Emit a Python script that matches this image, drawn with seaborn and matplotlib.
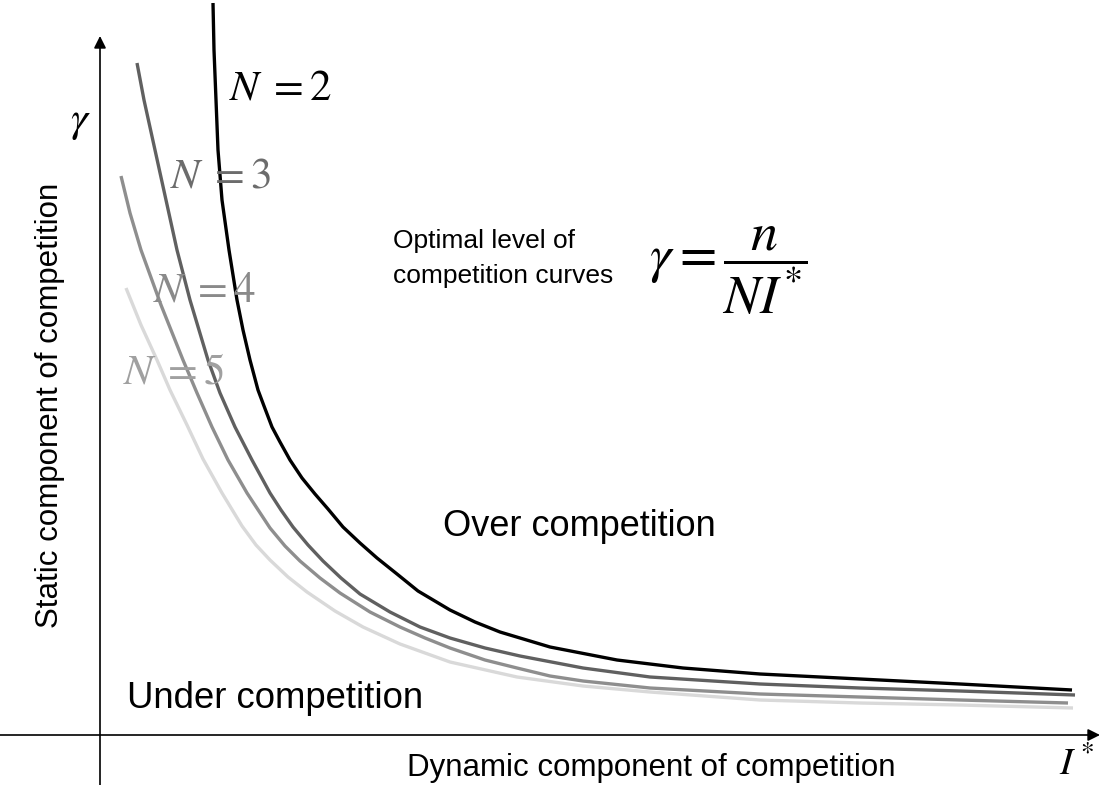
import numpy as np
import pandas as pd
import matplotlib
matplotlib.use("Agg")
import matplotlib.pyplot as plt
import seaborn as sns

# ------------------------------------------------------------
# data (I* on x, gamma on y)
# ------------------------------------------------------------
n2_x = [1.13, 1.14, 1.16, 1.18, 1.22, 1.29, 1.37, 1.43, 1.50, 1.54, 1.58, 1.64,
        1.72, 1.80, 1.90, 2.02, 2.15, 2.28, 2.43, 2.60, 2.77, 2.97, 3.18, 3.50,
        3.75, 4.00, 4.50, 5.17, 5.83, 6.60, 7.60, 8.60, 9.72]
n2_y = [7.32, 6.85, 6.35, 5.85, 5.35, 4.85, 4.35, 4.05, 3.75, 3.60, 3.45, 3.29,
        3.08, 2.93, 2.75, 2.57, 2.41, 2.26, 2.08, 1.92, 1.77, 1.61, 1.44, 1.25,
        1.13, 1.03, 0.88, 0.75, 0.67, 0.61, 0.56, 0.51, 0.45]

n3_x = [0.37, 0.44, 0.55, 0.66, 0.77, 0.90, 0.99, 1.08, 1.20, 1.35, 1.52, 1.70,
        1.81, 1.93, 2.08, 2.23, 2.41, 2.60, 2.90, 3.20, 3.50, 3.85, 4.20, 4.83,
        5.50, 6.60, 7.60, 8.60, 9.75]
n3_y = [6.72, 6.35, 5.85, 5.35, 4.85, 4.35, 4.05, 3.75, 3.42, 3.08, 2.75, 2.42,
        2.25, 2.08, 1.90, 1.74, 1.57, 1.41, 1.23, 1.08, 0.97, 0.87, 0.79, 0.67,
        0.58, 0.51, 0.47, 0.44, 0.40]

n4_x = [0.21, 0.30, 0.41, 0.61, 0.83, 0.97, 1.12, 1.28, 1.47, 1.70, 1.85, 2.00,
        2.20, 2.40, 2.70, 3.00, 3.25, 3.50, 3.85, 4.17, 4.50, 4.83, 5.50, 6.60,
        7.60, 8.60, 9.68]
n4_y = [5.59, 5.22, 4.85, 4.30, 3.75, 3.42, 3.08, 2.75, 2.42, 2.07, 1.89, 1.74,
        1.57, 1.42, 1.23, 1.08, 0.97, 0.87, 0.75, 0.67, 0.59, 0.54, 0.47, 0.41,
        0.38, 0.35, 0.32]

n5_x = [0.26, 0.41, 0.57, 0.70, 0.87, 1.03, 1.22, 1.42, 1.56, 1.70, 1.88, 2.07,
        2.35, 2.63, 3.00, 3.50, 4.17, 4.83, 5.50, 6.60, 7.60, 8.60, 9.73]
n5_y = [4.47, 4.10, 3.75, 3.45, 3.10, 2.76, 2.42, 2.09, 1.90, 1.75, 1.58, 1.43,
        1.24, 1.08, 0.91, 0.73, 0.58, 0.49, 0.43, 0.35, 0.32, 0.30, 0.27]

n_values = [2, 3, 4, 5]
curve_colors = ['#000000', '#606060', '#8e8e8e', '#d9d9d9']
label_colors = ['#000000', '#6c6c6c', '#8a8a8a', '#a0a0a0']
label_pos = [(1.80, 6.47), (1.20, 5.58), (1.04, 4.44), (0.73, 3.62)]

df = pd.concat([
    pd.DataFrame({'I': xs, 'gamma': ys, 'N': n})
    for xs, ys, n in zip([n2_x, n3_x, n4_x, n5_x], [n2_y, n3_y, n4_y, n5_y], n_values)
])

# ------------------------------------------------------------
# figure
# ------------------------------------------------------------
sns.set_theme(style='white')
plt.rcParams['font.family'] = ['Liberation Sans', 'DejaVu Sans']
plt.rcParams['mathtext.fontset'] = 'stix'
plt.rcParams['text.color'] = 'black'

fig = plt.figure(figsize=(11.02, 7.85), dpi=100)
ax = fig.add_axes([0, 0, 1, 1])

sns.lineplot(data=df, x='I', y='gamma', hue='N', hue_order=n_values,
             palette=curve_colors, estimator=None, legend=False,
             lw=2.4, ax=ax, solid_capstyle='butt', solid_joinstyle='round')

ax.set_xlim(-1.0, 10.02)
ax.set_ylim(-0.50, 7.35)
ax.axis('off')

# axes with arrows
arrow = dict(arrowstyle='-|>', color='black', lw=1.2, mutation_scale=18,
             shrinkA=0, shrinkB=0)
ax.annotate('', xy=(10.0, 0), xytext=(-1.0, 0), arrowprops=arrow)
ax.annotate('', xy=(0, 6.99), xytext=(0, -0.50), arrowprops=arrow)

# curve labels
for n, (lx, ly), c in zip(n_values, label_pos, label_colors):
    ax.text(lx, ly, rf'$N\;={n}$', fontsize=31, color=c, ha='center', va='center')

ax.text(-0.20, 6.13, r'$\gamma$', fontsize=31, ha='center', va='center')
ax.text(9.76, -0.30, r'$I^*$', fontsize=28, ha='center', va='center')

ax.text(-0.50, 3.30, 'Static component of competition', fontsize=22.5,
        rotation=90, ha='center', va='center')
ax.text(3.07, -0.41, 'Dynamic component of competition', fontsize=22.5,
        ha='left', va='baseline')
ax.text(0.27, 0.27, 'Under competition', fontsize=26.3, ha='left', va='baseline')
ax.text(3.43, 2.08, 'Over competition', fontsize=26, ha='left', va='center')

ax.text(2.93, 4.94, 'Optimal level of', fontsize=19, ha='left', va='center')
ax.text(2.93, 4.59, 'competition curves', fontsize=19, ha='left', va='center')
ax.text(5.49, 4.64, r'$\gamma = \dfrac{n}{NI^{*}}$', fontsize=39,
        ha='left', va='center')

plt.savefig('out.png', dpi=100)
